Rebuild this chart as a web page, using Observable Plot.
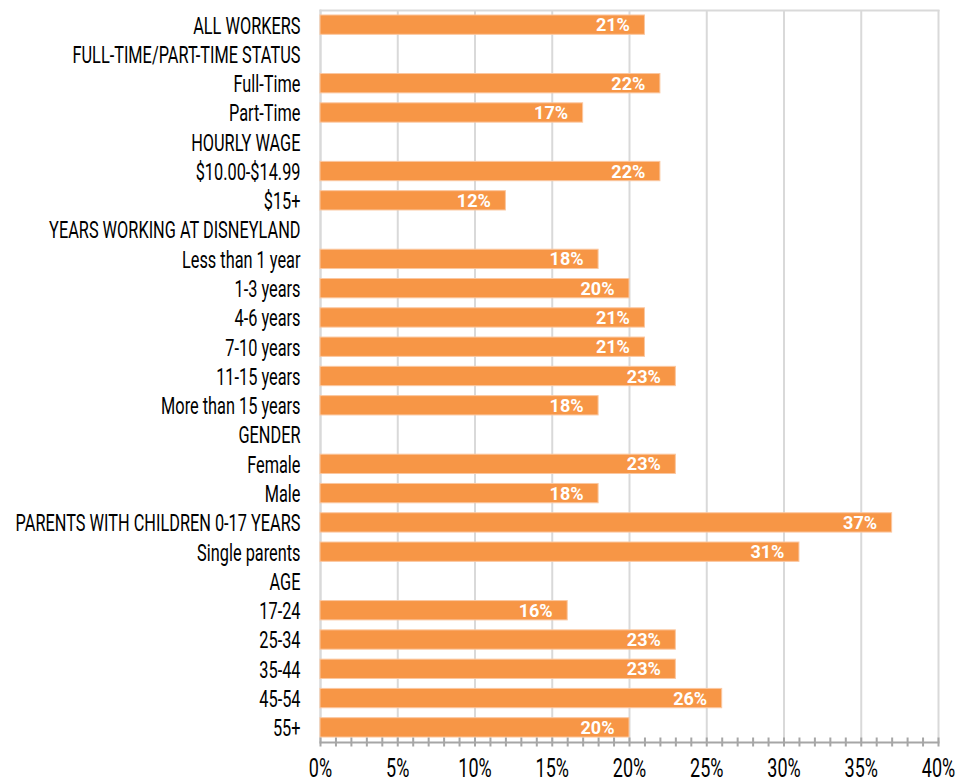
<!DOCTYPE html>
<html><head><meta charset="utf-8">
<script src="https://cdn.jsdelivr.net/npm/d3@7"></script>
<script src="https://cdn.jsdelivr.net/npm/@observablehq/plot@0.6"></script>
<style>body{margin:0;background:#fff}</style>
</head><body><div id="chart"></div>
<script>
const categories = [
  "ALL WORKERS",
  "FULL-TIME/PART-TIME STATUS",
  "Full-Time",
  "Part-Time",
  "HOURLY WAGE",
  "$10.00-$14.99",
  "$15+",
  "YEARS WORKING AT DISNEYLAND",
  "Less than 1 year",
  "1-3 years",
  "4-6 years",
  "7-10 years",
  "11-15 years",
  "More than 15 years",
  "GENDER",
  "Female",
  "Male",
  "PARENTS WITH CHILDREN 0-17 YEARS",
  "Single parents",
  "AGE",
  "17-24",
  "25-34",
  "35-44",
  "45-54",
  "55+"
];
const values = [21, null, 22, 17, null, 22, 12, null, 18, 20, 21, 21, 23, 18, null, 23, 18, 37, 31, null, 16, 23, 23, 26, 20];
const xTicks = [0, 5, 10, 15, 20, 25, 30, 35, 40];
const minorTicks = d3.range(0, 41, 1);

const data = categories.map((c, i) => ({category: c, value: values[i]}));
const bars = data.filter(d => d.value != null);

const plot = Plot.plot({
  width: 956, height: 782,
  marginTop: 10, marginBottom: 40, marginLeft: 320, marginRight: 18,
  style: {fontFamily: "Roboto, 'Liberation Sans', sans-serif", background: "#fff", color: "#000", overflow: "visible"},
  x: {domain: [0, 40], label: null},
  y: {domain: categories, paddingInner: 0.34, paddingOuter: 0.17, round: false, label: null},
  marks: [
    Plot.gridX(xTicks, {stroke: "#d9d9d9", strokeOpacity: 1, strokeWidth: 2}),
    Plot.frame({anchor: "top", stroke: "#d9d9d9", strokeWidth: 2}),
    Plot.frame({anchor: "left", stroke: "#d9d9d9", strokeWidth: 2}),
    Plot.barX(bars, {x: "value", y: "category", fill: "#f79646", stroke: "#fbc7a0", strokeWidth: 1}),
    Plot.text(bars, {x: "value", y: "category", text: d => d.value + "%", textAnchor: "end", dx: -15, fill: "white", fontWeight: "bold", fontSize: 19}),
    Plot.frame({anchor: "bottom", stroke: "#a6a6a6", strokeWidth: 2}),
    Plot.axisX(minorTicks, {tickSize: 9, dy: -4.5, tickFormat: () => "", label: null, stroke: "#a6a6a6", strokeWidth: 2}),
    Plot.axisX(xTicks, {tickSize: 0, tickPadding: 17, tickFormat: d => d + "%", label: null, fontSize: 25, fill: "#000"}),
    Plot.axisY({tickSize: 0, tickPadding: 20, fontSize: 23, fill: "#000", label: null, dy: 1})
  ]
});
document.getElementById("chart").appendChild(plot);

function condense(nodes, s) {
  nodes.forEach(t => {
    [t, ...t.querySelectorAll("tspan")].forEach(el => {
      for (const a of ["x", "dx"]) {
        const v = el.getAttribute(a);
        if (v != null && v !== "" && !isNaN(+v)) el.setAttribute(a, +v / s);
      }
    });
    const tr = t.getAttribute("transform") || "";
    t.setAttribute("transform", tr + ` scale(${s},1)`);
  });
}
condense(plot.querySelectorAll('[aria-label="y-axis tick label"] text'), 0.71);
condense(plot.querySelectorAll('[aria-label="x-axis tick label"] text'), 0.72);
condense(plot.querySelectorAll('[aria-label="text"] text'), 0.95);
</script>
</body></html>
